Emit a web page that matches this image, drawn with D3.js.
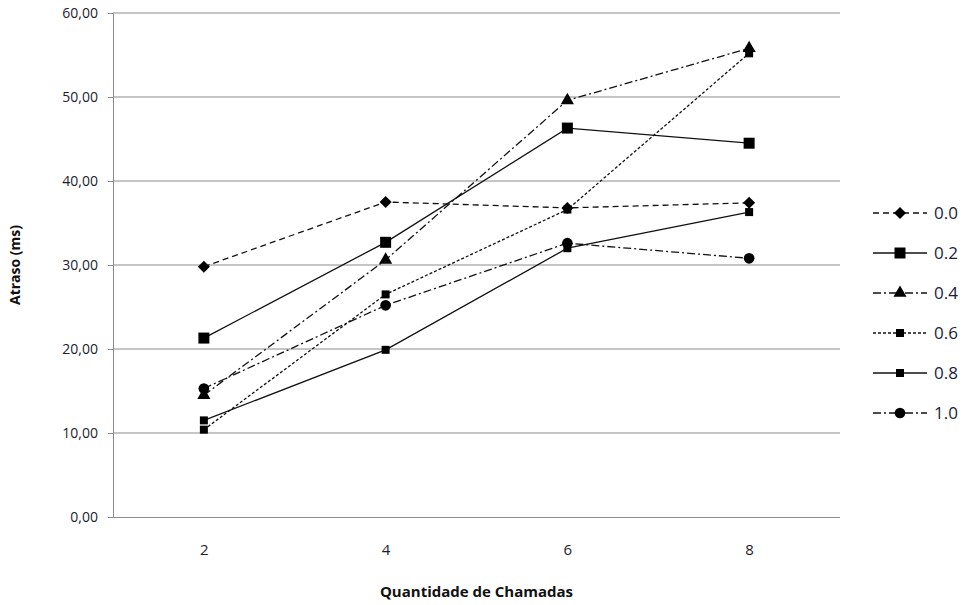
<!DOCTYPE html>
<html>
<head>
<meta charset="utf-8">
<script src="https://cdn.jsdelivr.net/npm/d3@7"></script>
<style>
  body { margin: 0; background: #fff; }
  svg text { font-family: "Open Sans", "Liberation Sans", sans-serif; }
</style>
</head>
<body>
<div id="chart"></div>
<script>
const categories = [2, 4, 6, 8];
const seriesNames = ["0.0", "0.2", "0.4", "0.6", "0.8", "1.0"];
const s00 = [29.8, 37.5, 36.8, 37.4];
const s02 = [21.3, 32.7, 46.3, 44.5];
const s04 = [14.5, 30.6, 49.6, 55.8];
const s06 = [10.4, 26.5, 36.6, 55.2];
const s08 = [11.5, 19.9, 32.0, 36.3];
const s10 = [15.3, 25.2, 32.6, 30.8];
const yTicks = [0, 10, 20, 30, 40, 50, 60];

const width = 963, height = 605;
const mLeft = 113, mRight = 840, mTop = 13, mBottom = 517;

// diamond drawn as a rotated square (d3's own diamond is too tall)
const squareDiamond = {
  draw(ctx, size) {
    const r = Math.sqrt(size / 2);
    ctx.moveTo(0, -r);
    ctx.lineTo(r, 0);
    ctx.lineTo(0, r);
    ctx.lineTo(-r, 0);
    ctx.closePath();
  }
};

// style of each series: dash pattern + marker
const styles = [
  { dash: "6,4", symbol: squareDiamond, size: 72 },
  { dash: null, symbol: d3.symbolSquare, size: 121 },
  { dash: "8,3,2,3", symbol: d3.symbolTriangle, size: 75 },
  { dash: "3,2", symbol: d3.symbolSquare, size: 64 },
  { dash: null, symbol: d3.symbolSquare, size: 64 },
  { dash: "8,3,2,3", symbol: d3.symbolCircle, size: 90 }
];
const allSeries = [s00, s02, s04, s06, s08, s10];

const svg = d3.select("#chart").append("svg")
  .attr("width", width)
  .attr("height", height);

const x = d3.scalePoint().domain(categories).range([mLeft, mRight]).padding(0.5);
const y = d3.scaleLinear().domain([0, 60]).range([mBottom, mTop]);

// gridlines
svg.append("g")
  .selectAll("line")
  .data(yTicks.filter(d => d > 0))
  .enter().append("line")
  .attr("x1", mLeft).attr("x2", mRight)
  .attr("y1", d => y(d)).attr("y2", d => y(d))
  .attr("stroke", "#8c8c8c").attr("stroke-width", 1);

// y axis
const yAxis = svg.append("g")
  .attr("transform", `translate(${mLeft},0)`)
  .call(d3.axisLeft(y).tickValues(yTicks).tickSize(5).tickPadding(10)
    .tickFormat(d => d3.format(".2f")(d).replace(".", ",")));
yAxis.select(".domain").attr("stroke", "#8c8c8c");
yAxis.selectAll(".tick line").attr("stroke", "#8c8c8c");
yAxis.selectAll("text").attr("fill", "#1c1c2e").style("font-size", "14px");

// x axis
const xAxis = svg.append("g")
  .attr("transform", `translate(0,${mBottom})`)
  .call(d3.axisBottom(x).tickSize(0).tickPadding(27));
xAxis.select(".domain").attr("stroke", "#8c8c8c").attr("d", `M${mLeft - 5},0.5H${mRight}`);
xAxis.selectAll("text").attr("fill", "#1c1c2e").style("font-size", "15px");

// titles
svg.append("text")
  .attr("transform", `translate(20,${(mTop + mBottom) / 2}) rotate(-90)`)
  .attr("text-anchor", "middle")
  .style("font-size", "14px").style("font-weight", "bold")
  .attr("fill", "#111")
  .text("Atraso (ms)");

svg.append("text")
  .attr("x", (mLeft + mRight) / 2).attr("y", 597)
  .attr("text-anchor", "middle")
  .style("font-size", "15px").style("font-weight", "bold")
  .attr("fill", "#111")
  .text("Quantidade de Chamadas");

// lines
const line = d3.line().x((d, i) => x(categories[i])).y(d => y(d));

allSeries.forEach((vals, k) => {
  const st = styles[k];
  svg.append("path")
    .attr("d", line(vals))
    .attr("fill", "none")
    .attr("stroke", "#111")
    .attr("stroke-width", 1.3)
    .attr("stroke-dasharray", st.dash);
});

allSeries.forEach((vals, k) => {
  const st = styles[k];
  svg.append("g").selectAll("path")
    .data(vals)
    .enter().append("path")
    .attr("transform", (d, i) => `translate(${x(categories[i])},${y(d)})`)
    .attr("d", d3.symbol().type(st.symbol).size(st.size))
    .attr("fill", "#000");
});

// legend
const legend = svg.append("g").attr("transform", "translate(873,213)");
seriesNames.forEach((name, k) => {
  const st = styles[k];
  const g = legend.append("g").attr("transform", `translate(0,${k * 40})`);
  g.append("line")
    .attr("x1", 0).attr("x2", 54).attr("y1", 0).attr("y2", 0)
    .attr("stroke", "#111").attr("stroke-width", 1.3)
    .attr("stroke-dasharray", st.dash);
  g.append("path")
    .attr("transform", "translate(27,0)")
    .attr("d", d3.symbol().type(st.symbol).size(st.size))
    .attr("fill", "#000");
  g.append("text")
    .attr("x", 61).attr("y", 0).attr("dy", "0.36em")
    .style("font-size", "17px")
    .attr("fill", "#1c1c3a")
    .text(name);
});
</script>
</body>
</html>
